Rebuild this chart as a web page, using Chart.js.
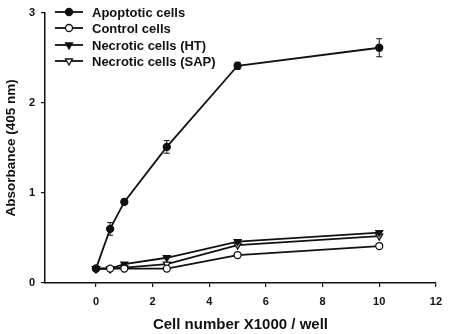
<!DOCTYPE html>
<html>
<head>
<meta charset="utf-8">
<script src="https://cdn.jsdelivr.net/npm/chart.js@4"></script>
<style>
  body { margin: 0; background: #fff; }
  #wrap { width: 450px; height: 334px; }
</style>
</head>
<body>
<div id="wrap"><canvas id="absChart" width="450" height="334"></canvas></div>
<script>
// Data
const cellNumbers = [0, 0.5, 1, 2.5, 5, 10];
const apoptotic = [0.16, 0.6, 0.9, 1.51, 2.41, 2.61];
const apoptoticErr = [0, 0.07, 0.03, 0.07, 0.04, 0.1];
const control = [0.16, 0.16, 0.16, 0.16, 0.31, 0.41];
const necroticHT = [0.16, 0.16, 0.21, 0.28, 0.46, 0.56];
const necroticSAP = [0.16, 0.16, 0.17, 0.21, 0.42, 0.52];
const xTicks = [0, 2, 4, 6, 8, 10, 12];
const yTicks = [0, 1, 2, 3];

const FONT = "'Liberation Sans', Arial, Helvetica, sans-serif";

function toPoints(values) {
    return cellNumbers.map((x, i) => ({ x: x, y: values[i] }));
}

function makeSet(label, values, style, fill, rotation, radius) {
    return {
        label: label,
        data: toPoints(values),
        borderColor: '#111',
        borderWidth: 1.8,
        pointStyle: style,
        pointRotation: rotation,
        pointRadius: radius,
        pointBorderWidth: 1.3,
        pointBorderColor: '#111',
        pointBackgroundColor: fill,
        tension: 0,
        fill: false
    };
}

// Error bars drawn from the scales
const errorBars = {
    id: 'errorBars',
    afterDatasetsDraw(chart) {
        const ctx = chart.ctx;
        const yScale = chart.scales.y;
        const meta = chart.getDatasetMeta(0);
        ctx.save();
        ctx.strokeStyle = '#111';
        ctx.lineWidth = 1;
        apoptoticErr.forEach((e, i) => {
            if (!e) return;
            const pt = meta.data[i];
            const top = yScale.getPixelForValue(apoptotic[i] + e);
            const bot = yScale.getPixelForValue(apoptotic[i] - e);
            ctx.beginPath();
            ctx.moveTo(pt.x, top); ctx.lineTo(pt.x, bot);
            ctx.moveTo(pt.x - 3, top); ctx.lineTo(pt.x + 3, top);
            ctx.moveTo(pt.x - 3, bot); ctx.lineTo(pt.x + 3, bot);
            ctx.stroke();
        });
        ctx.restore();
    }
};

// Legend with line + marker, top-left inside the plot
const lineLegend = {
    id: 'lineLegend',
    afterDraw(chart) {
        const ctx = chart.ctx;
        const rows = [12, 28, 45, 61];
        ctx.save();
        chart.data.datasets.forEach((ds, i) => {
            const y = rows[i];
            ctx.strokeStyle = '#111';
            ctx.lineWidth = 1.8;
            ctx.beginPath();
            ctx.moveTo(55, y); ctx.lineTo(83, y);
            ctx.stroke();
            ctx.fillStyle = ds.pointBackgroundColor;
            ctx.strokeStyle = '#111';
            ctx.lineWidth = 1.3;
            Chart.helpers.drawPoint(ctx, {
                pointStyle: ds.pointStyle,
                rotation: ds.pointRotation,
                radius: ds.pointRadius,
                borderWidth: 1.3
            }, 69, y);
            ctx.fillStyle = '#111';
            ctx.font = 'bold 13px ' + FONT;
            ctx.textBaseline = 'middle';
            ctx.textAlign = 'left';
            ctx.fillText(ds.label, 92, y + 1);
        });
        ctx.restore();
    }
};

document.addEventListener('DOMContentLoaded', function() {
    const ctx = document.getElementById('absChart');
    new Chart(ctx, {
        type: 'line',
        data: {
            datasets: [
                makeSet('Apoptotic cells', apoptotic, 'circle', '#111', 0, 3.5),
                makeSet('Control cells', control, 'circle', '#fff', 0, 3.5),
                makeSet('Necrotic cells (HT)', necroticHT, 'triangle', '#111', 180, 4),
                makeSet('Necrotic cells (SAP)', necroticSAP, 'triangle', '#fff', 180, 4)
            ]
        },
        options: {
            responsive: false,
            animation: false,
            layout: { padding: { top: 10, right: 13, left: 0, bottom: 0 } },
            plugins: {
                legend: { display: false },
                tooltip: { enabled: false }
            },
            scales: {
                x: {
                    type: 'linear',
                    min: -1.8,
                    max: 12,
                    afterBuildTicks: function(scale) {
                        scale.ticks = xTicks.map(v => ({ value: v }));
                    },
                    afterFit: function(scale) { scale.height = 51; },
                    border: { display: true, color: '#111', width: 1.5 },
                    grid: {
                        display: true,
                        drawOnChartArea: false,
                        drawTicks: true,
                        tickLength: 4,
                        color: '#111',
                        lineWidth: 1.2
                    },
                    ticks: {
                        color: '#111',
                        padding: 8,
                        font: { family: FONT, size: 11, weight: 'bold' }
                    },
                    title: {
                        display: true,
                        text: 'Cell number X1000 / well',
                        color: '#111',
                        padding: { top: 0, bottom: 0 },
                        font: { family: FONT, size: 15, weight: 'bold' }
                    }
                },
                y: {
                    min: 0,
                    max: 3,
                    afterBuildTicks: function(scale) {
                        scale.ticks = yTicks.map(v => ({ value: v }));
                    },
                    afterFit: function(scale) { scale.width = 45; },
                    border: { display: true, color: '#111', width: 1.5 },
                    grid: {
                        display: true,
                        drawOnChartArea: false,
                        drawTicks: true,
                        tickLength: 4,
                        color: '#111',
                        lineWidth: 1.2
                    },
                    ticks: {
                        color: '#111',
                        padding: 6,
                        font: { family: FONT, size: 11, weight: 'bold' }
                    },
                    title: {
                        display: true,
                        text: 'Absorbance (405 nm)',
                        color: '#111',
                        padding: { top: 3, bottom: 0 },
                        font: { family: FONT, size: 13.5, weight: 'bold' }
                    }
                }
            }
        },
        plugins: [errorBars, lineLegend]
    });
});
</script>
</body>
</html>
